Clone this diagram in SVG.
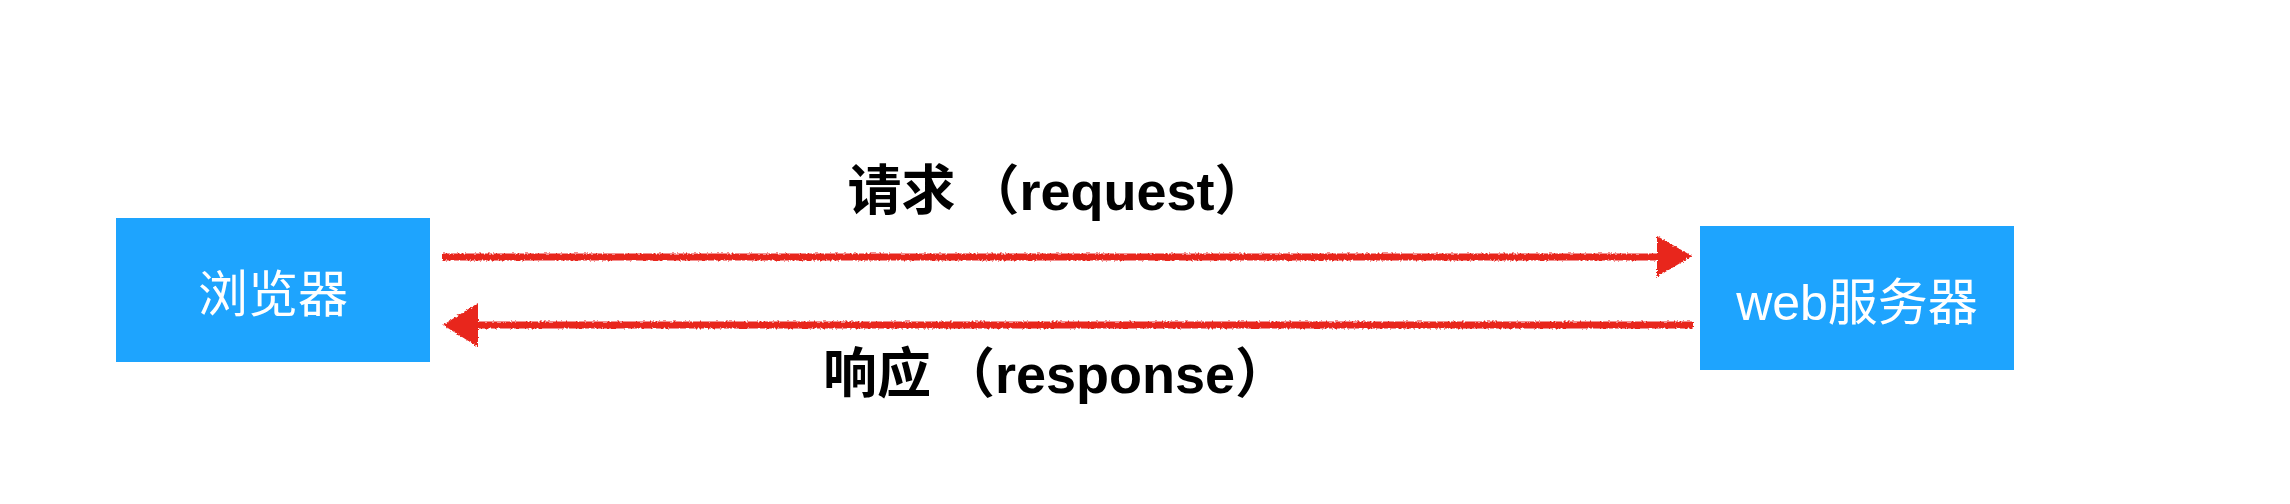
<svg xmlns="http://www.w3.org/2000/svg" width="2290" height="504" viewBox="0 0 2290 504">
<defs>
<style>
.box{fill:#1EA4FE}
.boxtxt{fill:#fff;font-family:"Liberation Sans","Noto Sans CJK SC",sans-serif;font-size:50px;text-anchor:middle}
.lbl{fill:#000;font-family:"Liberation Sans","Noto Sans CJK SC",sans-serif;font-size:54px;font-weight:bold;text-anchor:middle}
.wire{stroke:#E8261E;stroke-width:7;fill:none;filter:url(#crayon)}
.head{fill:#E8261E;filter:url(#crayon)}
</style>
<filter id="crayon" filterUnits="userSpaceOnUse" x="0" y="0" width="2290" height="504">
<feTurbulence type="fractalNoise" baseFrequency="0.5" numOctaves="2" seed="3"/>
<feDisplacementMap in="SourceGraphic" scale="3.5" xChannelSelector="R" yChannelSelector="G"/>
</filter>
</defs>
<g id="browser">
<rect class="box" x="116" y="218" width="314" height="144"/>
<text class="boxtxt" x="273" y="312">浏览器</text>
</g>
<g id="server">
<rect class="box" x="1700" y="226" width="314" height="144"/>
<text class="boxtxt" x="1857" y="320">web服务器</text>
</g>
<g id="connectors">
<line class="wire" x1="442" y1="257" x2="1662" y2="257"/>
<polygon class="head" points="1657,236 1692,256 1657,277"/>
<line class="wire" x1="1693" y1="325" x2="474" y2="325"/>
<polygon class="head" points="478,303 443,325 478,347"/>
<text class="lbl" x="1058" y="210">请求<tspan dx="10">（request）</tspan></text>
<text class="lbl" x="1056" y="393">响应<tspan dx="10">（response）</tspan></text>
</g>
</svg>
